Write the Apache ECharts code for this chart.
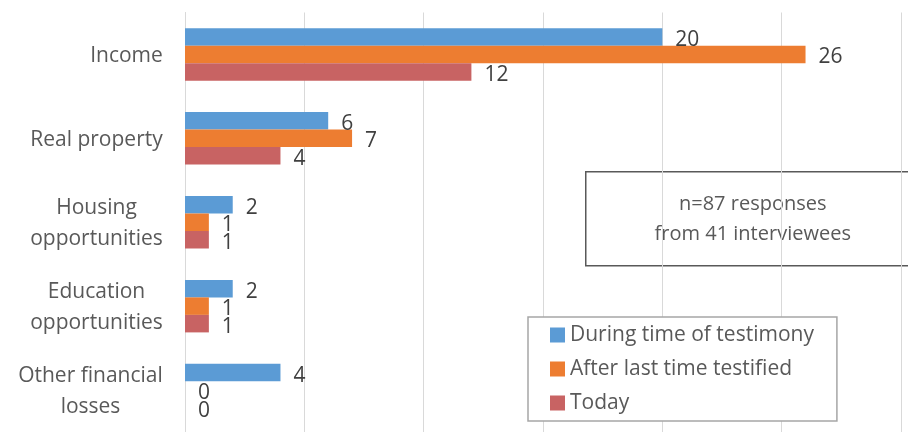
<!DOCTYPE html>
<html>
<head>
<meta charset="utf-8">
<script src="https://cdn.jsdelivr.net/npm/echarts@6/dist/echarts.min.js"></script>
<style>
  html, body { margin: 0; padding: 0; background: #fff; }
  #chart { width: 908px; height: 432px; }
</style>
</head>
<body>
<div id="chart"></div>
<script>
const categories = ['Income', 'Real property', 'Housing\nopportunities', 'Education\nopportunities', 'Other financial\nlosses']
const seriesNames = ['During time of testimony', 'After last time testified', 'Today']
const during = [20, 6, 2, 2, 4]
const after = [26, 7, 1, 1, 0]
const today = [12, 4, 1, 1, 0]
const noteText = 'n=87 responses\nfrom 41 interviewees'

const FONT = '"Open Sans", sans-serif'
const FS = 21
const colors = ['#5B9BD5', '#ED7D31', '#C86363']

// measure each label so its lines can be centred inside a right-aligned block
let ctx = document.createElement('canvas').getContext('2d')
ctx.font = FS + 'px ' + FONT
let rich = {}
categories.forEach((c, i) => {
  let w = Math.max(...c.split('\n').map(s => ctx.measureText(s).width))
  rich['c' + i] = { width: Math.ceil(w), align: 'center', fontSize: FS, lineHeight: 31, color: '#595959', fontFamily: FONT, padding: [3, 0, 0, 0] }
})

let myChart = echarts.init(document.getElementById('chart'))

function barSeries (name, data, color) {
  return {
    name: name,
    type: 'bar',
    data: data,
    barWidth: 17.5,
    barGap: '0%',
    itemStyle: { color: color },
    label: {
      show: true,
      position: 'right',
      distance: 13,
      offset: [0, 3],
      color: '#404040',
      fontSize: FS,
      fontFamily: FONT
    }
  }
}

myChart.setOption({
  animation: false,
  color: colors,
  grid: { left: 185, top: 12.5, width: 716, height: 425 },
  xAxis: {
    type: 'value',
    min: 0,
    max: 30,
    interval: 5,
    axisLabel: { show: false },
    axisLine: { show: false },
    axisTick: { show: false },
    splitLine: { lineStyle: { color: '#d9d9d9', width: 1 } }
  },
  yAxis: {
    type: 'category',
    inverse: true,
    data: categories,
    axisTick: { show: false },
    axisLine: { lineStyle: { color: '#d9d9d9', width: 1 } },
    axisLabel: {
      margin: 22,
      align: 'right',
      formatter: (v, i) => v.split('\n').map(s => '{c' + i + '|' + s + '}').join('\n'),
      rich: rich
    }
  },
  legend: {
    orient: 'vertical',
    left: 528,
    top: 317,
    padding: [6, 23, 6, 22],
    itemGap: 10,
    itemWidth: 15,
    itemHeight: 15,
    icon: 'rect',
    borderColor: '#a6a6a6',
    borderWidth: 1.5,
    backgroundColor: '#fff',
    textStyle: { color: '#595959', fontSize: FS, fontFamily: FONT, lineHeight: 24 },
    data: seriesNames
  },
  graphic: [
    {
      type: 'group',
      left: 585,
      top: 171,
      z: 10,
      children: [
        {
          type: 'rect',
          shape: { x: 0, y: 0, width: 335, height: 94 },
          style: { fill: '#fff', stroke: '#595959', lineWidth: 1.5 }
        },
        {
          type: 'text',
          x: 167,
          y: 48,
          style: {
            text: noteText,
            fill: '#595959',
            font: '20px ' + FONT,
            lineHeight: 30,
            align: 'center',
            verticalAlign: 'middle'
          }
        }
      ]
    }
  ],
  series: [
    barSeries(seriesNames[0], during, colors[0]),
    barSeries(seriesNames[1], after, colors[1]),
    barSeries(seriesNames[2], today, colors[2])
  ]
})
</script>
</body>
</html>
